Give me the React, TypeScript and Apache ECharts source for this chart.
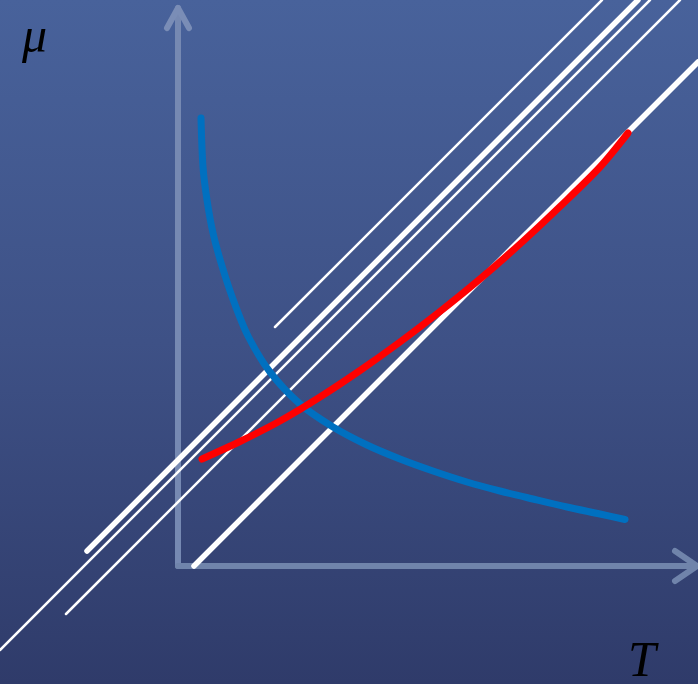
import React, { useEffect, useRef } from "react";
import * as echarts from "echarts";

// Data space: origin at the axes' crossing; T to the right, μ upward.
const blueCurve: [number, number][] = [
  [23, 448], [25, 399], [29, 366], [35, 333], [44, 300], [56, 264], [70, 230],
  [92, 194], [122, 162], [155, 139], [189, 121], [222, 107], [255, 95],
  [289, 84], [322, 75], [355, 67], [389, 59], [422, 52], [447, 46.5],
];

const redCurve: [number, number][] = [
  [24, 107], [62, 124.5], [102, 145], [142, 169], [182, 195.5], [222, 224],
  [262, 254.5], [302, 287], [342, 322], [382, 359.5], [422, 399], [450, 433],
];

const thinLines: [number, number][][] = [
  [[97, 239], [424, 566]],
  [[-178, -84], [472, 566]],
  [[-112, -48], [502, 566]],
];

const thickLines: [number, number][][] = [
  [[-91, 15], [460, 566]],
  [[16, 0], [520, 504]],
];

const yAxisShaft: [number, number][] = [[0, 0], [0, 558]];
const yAxisHead: [number, number][] = [[-11, 538], [0, 558], [11, 538]];
const xAxisShaft: [number, number][] = [[0, 0], [519, 0]];
const xAxisHead: [number, number][] = [[497, 15], [519, 0], [497, -15]];

const yLabel = "μ";
const xLabel = "T";

const lineSeries = (data: [number, number][], color: string, width: number) => ({
  type: "line",
  data,
  showSymbol: false,
  symbol: "none",
  silent: true,
  clip: true,
  lineStyle: { color, width, cap: "round", join: "round" },
});

const smoothSeries = (data: [number, number][], color: string, width: number) => ({
  ...lineSeries(data, color, width),
  smooth: 0.3,
});

export default function App() {
  const ref = useRef<HTMLDivElement>(null);
  useEffect(() => {
    if (!ref.current) return;
    const chart = echarts.init(ref.current, undefined, { renderer: "svg" });
    chart.setOption({
      animation: false,
      backgroundColor: {
        type: "linear",
        x: 0, y: 0, x2: 0, y2: 1,
        colorStops: [
          { offset: 0, color: "#48629b" },
          { offset: 0.5, color: "#3e5186" },
          { offset: 1, color: "#2f3b6a" },
        ],
      },
      grid: { left: 0, right: 0, top: 0, bottom: 0, containLabel: false },
      xAxis: { type: "value", min: -178, max: 520, show: false },
      yAxis: { type: "value", min: -118, max: 566, show: false },
      series: [
        lineSeries(yAxisShaft, "#7689b2", 6),
        lineSeries(yAxisHead, "#7a8db6", 6),
        lineSeries(xAxisShaft, "#7084ab", 6),
        lineSeries(xAxisHead, "#7084ab", 6),
        ...thinLines.map((d) => lineSeries(d, "#ffffff", 2.5)),
        ...thickLines.map((d) => lineSeries(d, "#ffffff", 5.5)),
        smoothSeries(blueCurve, "#0070c0", 7),
        smoothSeries(redCurve, "#ff0000", 7),
      ],
      graphic: [
        {
          type: "text",
          left: 22,
          top: 10,
          silent: true,
          style: { text: yLabel, font: 'italic 50px "Liberation Serif", serif', fill: "#000000" },
        },
        {
          type: "text",
          left: 628,
          top: 634,
          silent: true,
          style: { text: xLabel, font: 'italic 50px "Liberation Serif", serif', fill: "#000000" },
        },
      ],
    });
    return () => chart.dispose();
  }, []);
  return (
    <div
      ref={ref}
      style={{ position: "absolute", left: 0, top: 0, width: 698, height: 684 }}
    />
  );
}
